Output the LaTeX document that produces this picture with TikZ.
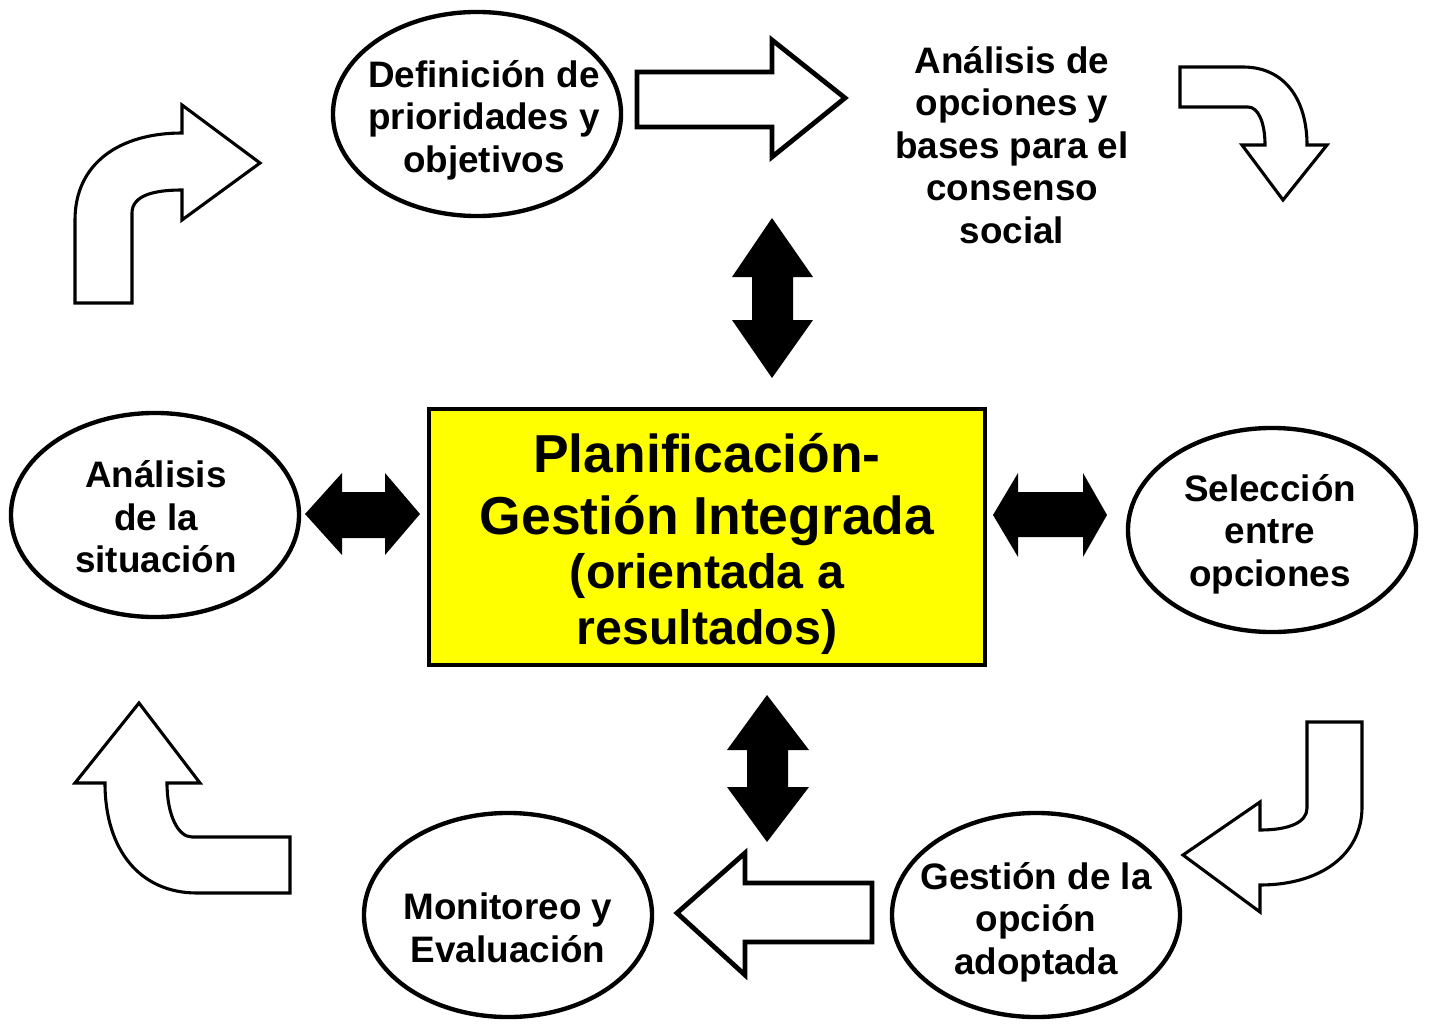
\documentclass[tikz,border=0pt]{standalone}
\usepackage{fontspec}
\setmainfont{Liberation Sans}
\usetikzlibrary{shapes.geometric, arrows, positioning}
\definecolor{amarillo}{RGB}{255,255,0}

\begin{document}
\begin{tikzpicture}[x=0.025cm, y=-0.025cm]
		\tikzstyle{Etapa} = [ellipse, draw=black, line width=3.1pt, minimum width=7.2cm, minimum height=5.1cm, inner sep=0pt]
		\tikzstyle{Texto} = [align=center, font=\fontsize{26.2}{30.2}\selectfont\bfseries]
		\tikzstyle{Hueca} = [draw=black, line width=2.2pt, fill=white]
		\tikzstyle{Recta} = [draw=black, line width=3.4pt, fill=white]
		\tikzstyle{Doble} = [fill=black]
		
		\useasboundingbox (0,0) rectangle (1431,1024);
		
		\node (plan) [rectangle, draw=black, line width=2.85pt, fill=amarillo, minimum width=13.9cm, minimum height=6.375cm] at (707,537) {};
		\node (planT) [align=center, font=\fontsize{38}{44}\selectfont\bfseries] at (707,544) {Planificación-\\Gestión Integrada\\[-5.5pt]{\fontsize{34.4}{40}\selectfont (orientada a}\\[-4.5pt]{\fontsize{34.4}{40}\selectfont resultados)}};
		
		\node (prio) [Etapa] at (477,114) {};
		\node (prioT) [Texto] at (484,120) {Definición de\\prioridades y\\objetivos};
		\node (opc) [Texto] at (1012,145) {Análisis de\\opciones y\\bases para el\\consenso\\social};
		\node (sit) [Etapa] at (155,515) {};
		\node (sitT) [Texto] at (156,517) {Análisis\\de la\\situación};
		\node (sel) [Etapa] at (1272,530) {};
		\node (selT) [Texto] at (1270,534) {Selección\\entre\\opciones};
		\node (gest) [Etapa] at (1036,915) {};
		\node (gestT) [Texto] at (1036,922) {Gestión de la\\opción\\adoptada};
		\node (moni) [Etapa] at (508,915) {};
		\node (moniT) [Texto] at (508,928) {Monitoreo y\\Evaluación};
		
		% flechas dobles
		\path [Doble] (772,218) -- (813,277) -- (793,277) -- (793,320) -- (813,320) -- (772,378) -- (732,320) -- (752,320) -- (752,277) -- (732,277) -- cycle;
		\path [Doble] (767,695) -- (809,750) -- (788,750) -- (788,787) -- (809,787) -- (767,842) -- (727,787) -- (747,787) -- (747,750) -- (727,750) -- cycle;
		\path [Doble] (305,514) -- (342,473) -- (342,492) -- (385,492) -- (385,473) -- (420,514) -- (385,555) -- (385,538) -- (342,538) -- (342,555) -- cycle;
		\path [Doble] (993,515) -- (1018,473) -- (1018,492) -- (1083,492) -- (1083,473) -- (1107,515) -- (1083,557) -- (1083,537) -- (1018,537) -- (1018,557) -- cycle;
		
		% flechas huecas
		\draw [Recta] (637,72) -- (772,72) -- (772,40) -- (845,98) -- (772,157) -- (772,127) -- (637,127) -- cycle;
		\draw [Recta] (677,913) -- (745,853) -- (745,883) -- (872,883) -- (872,942) -- (745,942) -- (745,975) -- cycle;
		
		\draw [Hueca] (75,303) -- (75,220) .. controls (75,163) and (120,133) .. (182,133) -- (182,105) -- (260,163) -- (182,220) -- (182,190) .. controls (155,190) and (132,195) .. (132,213) -- (132,303) -- cycle;
		\draw [Hueca] (1180,67) -- (1243,67) .. controls (1285,67) and (1307,100) .. (1307,145) -- (1327,145) -- (1283,200) -- (1242,145) -- (1265,145) .. controls (1265,122) and (1258,107) .. (1248,107) -- (1180,107) -- cycle;
		\draw [Hueca] (139,703) -- (200,783) -- (167,783) .. controls (167,815) and (178,837) .. (192,837) -- (290,837) -- (290,893) -- (197,893) .. controls (140,893) and (105,850) .. (105,783) -- (75,783) -- cycle;
		\draw [Hueca] (1307,722) -- (1362,722) -- (1362,807) .. controls (1362,855) and (1320,885) .. (1260,885) -- (1260,912) -- (1183,855) -- (1260,802) -- (1260,830) .. controls (1290,830) and (1307,822) .. (1307,808) -- cycle;
\end{tikzpicture}
\end{document}
